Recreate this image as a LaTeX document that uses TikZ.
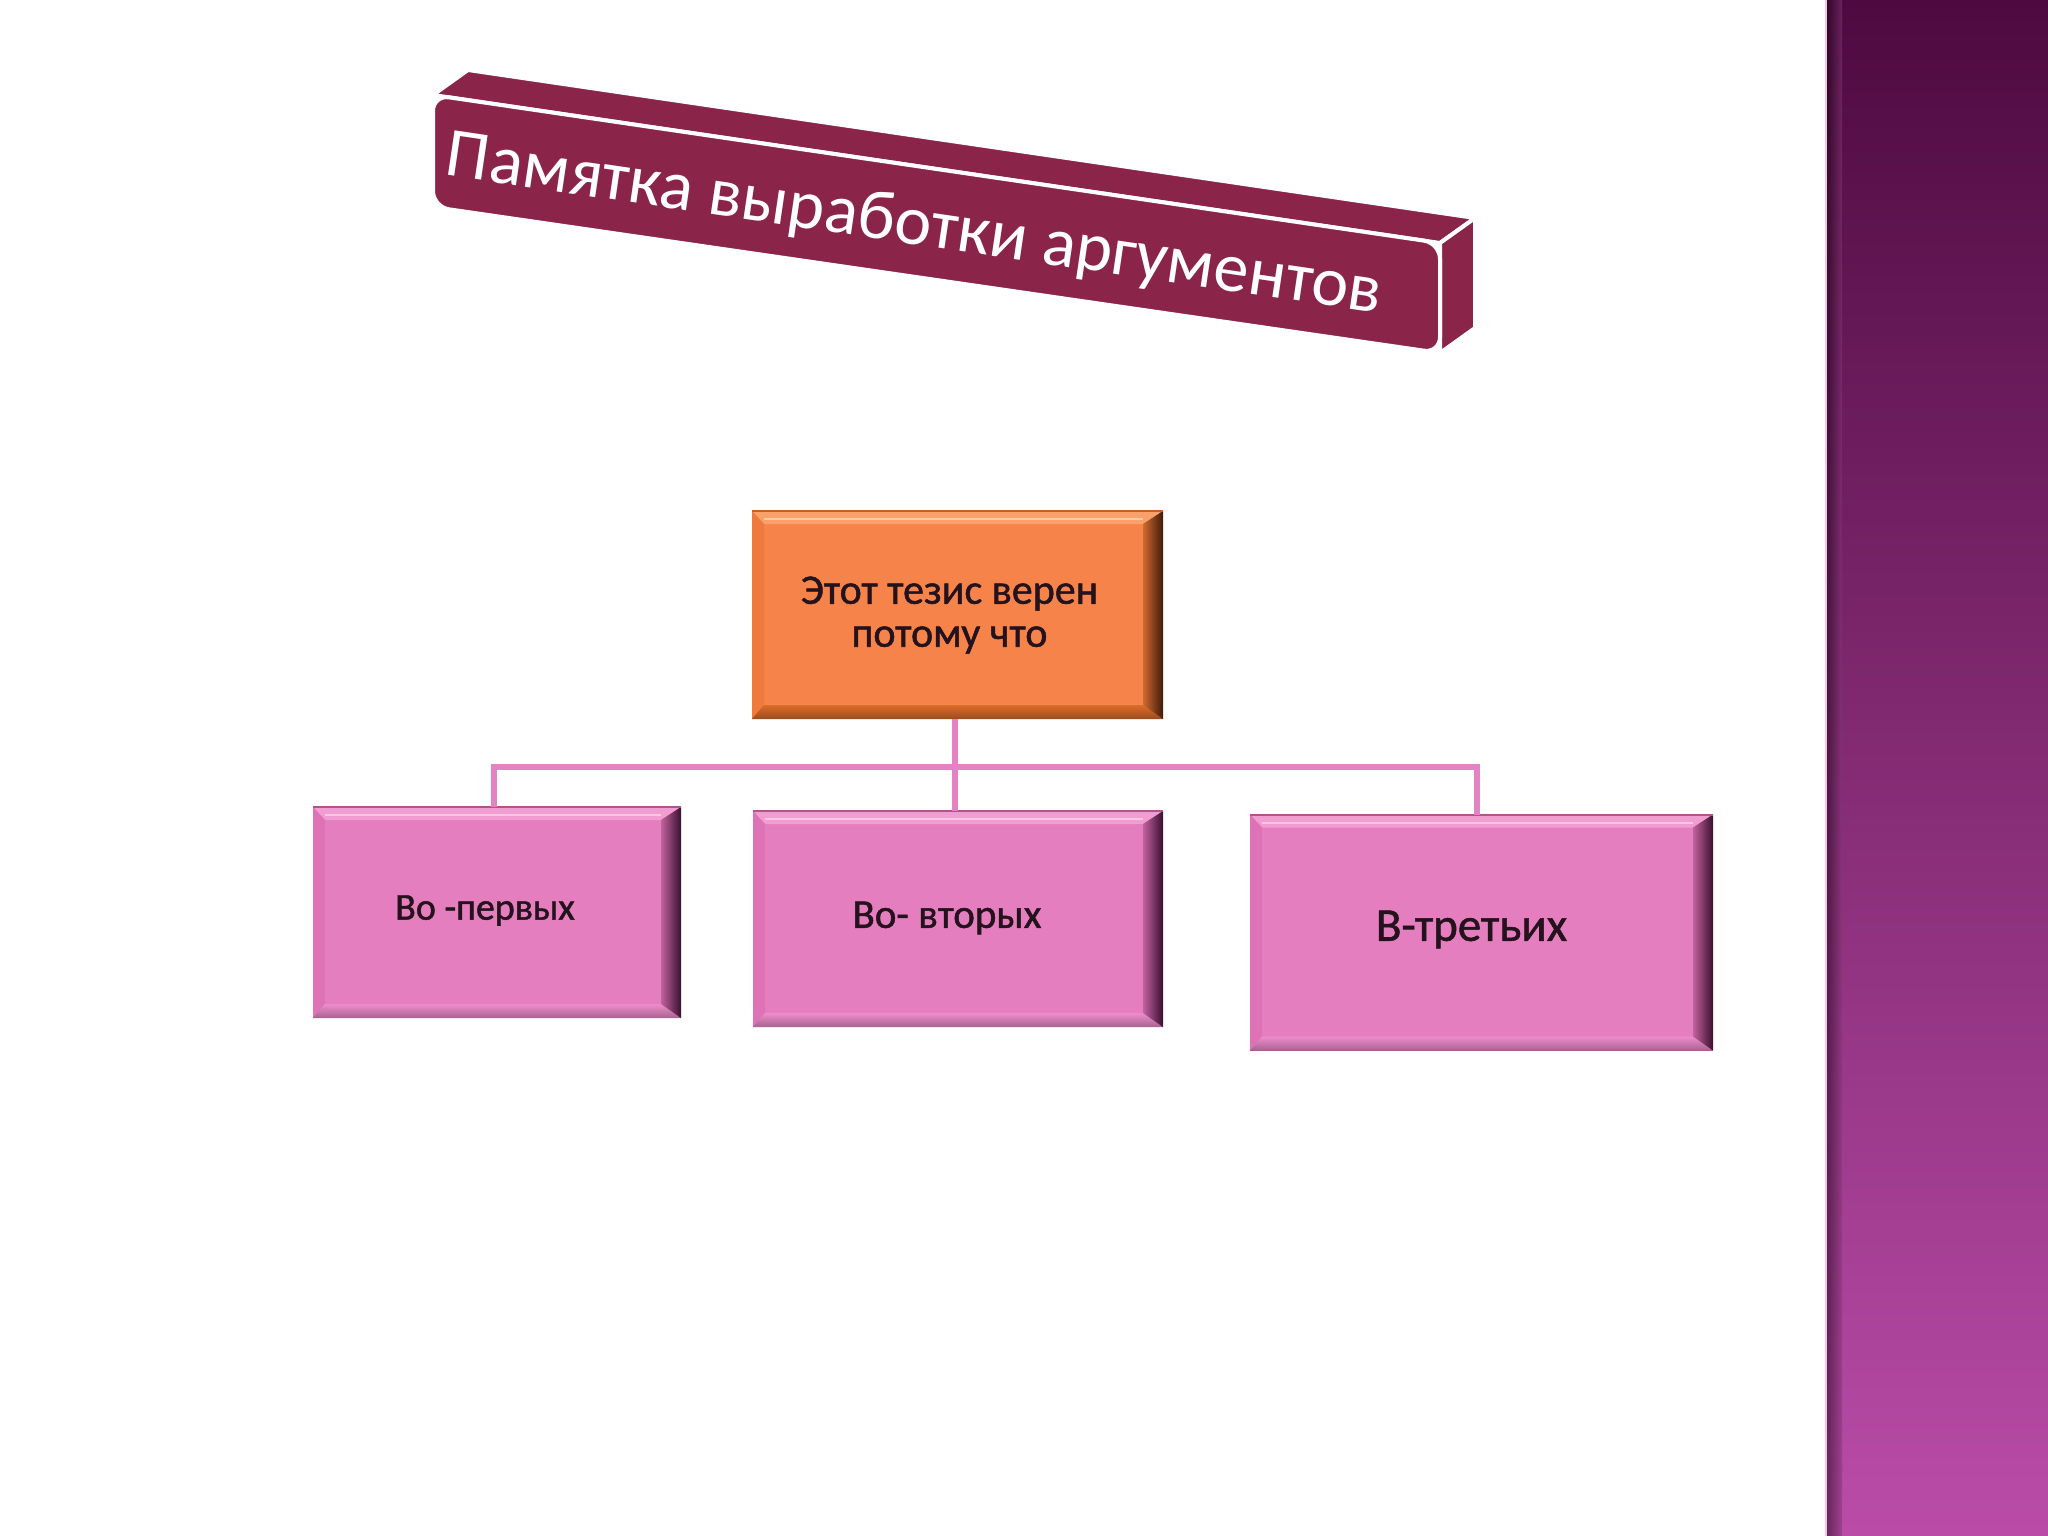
\documentclass[tikz,border=0pt]{standalone}
\usepackage{fontspec}
\setmainfont{Carlito}
\newfontfamily\boxfont{Carlito}[FakeBold=1.2]
\usetikzlibrary{calc}
\definecolor{bannerc}{HTML}{8B2449}
\definecolor{bandA}{HTML}{4E0A40}
\definecolor{bandB}{HTML}{8A387C}
\definecolor{bandC}{HTML}{BA4CA8}
\definecolor{orFace}{HTML}{F6844A}
\definecolor{orTop}{HTML}{FAA06A}
\definecolor{orLeft}{HTML}{EE7A3E}
\definecolor{orRight}{HTML}{D06A30}
\definecolor{orDark}{HTML}{3E1A08}
\definecolor{orBot}{HTML}{DC6C2C}
\definecolor{orLine}{HTML}{CC5E22}
\definecolor{pkFace}{HTML}{E57EBF}
\definecolor{pkTop}{HTML}{F29DD2}
\definecolor{pkLeft}{HTML}{DE72B6}
\definecolor{pkRight}{HTML}{C2619F}
\definecolor{pkDark}{HTML}{3A1030}
\definecolor{pkBot}{HTML}{EE8DCB}
\definecolor{pkLine}{HTML}{B4528E}
\definecolor{connc}{HTML}{E383C4}
\definecolor{txtc}{HTML}{24121C}
\tikzset{
  boxbase/.style={rectangle, inner sep=0pt, line width=2pt},
  obox/.style={boxbase, fill=orFace, draw=orLine},
  pbox/.style={boxbase, fill=pkFace, draw=pkLine},
  boxtext/.style={inner sep=0pt, align=center, text=txtc},
  conn/.style={draw=connc, line width=6pt},
  bannerface/.style={fill=bannerc, draw=white, line width=4pt, line join=round}
}
% #1 node, #2 top, #3 left, #4 right, #5 dark, #6 bottom, #7 outer line
\newcommand\bevelframe[7]{%
  \path (#1.north west) coordinate (o1) (#1.north east) coordinate (o2)
        (#1.south east) coordinate (o3) (#1.south west) coordinate (o4)
        ($(#1.north west)+(12,13)$) coordinate (i1)
        ($(#1.north east)+(-20,13)$) coordinate (i2)
        ($(#1.south east)+(-20,-14)$) coordinate (i3)
        ($(#1.south west)+(12,-14)$) coordinate (i4);
  \fill[#2] (o1)--(o2)--(i2)--(i1)--cycle;
  \fill[#3] (o1)--(i1)--(i4)--(o4)--cycle;
  \shade[top color=#6, bottom color=#6!70!black] (o4)--(i4)--(i3)--(o3)--cycle;
  \shade[left color=#4, right color=#5] (o2)--(o3)--(i3)--(i2)--cycle;
  \draw[white, opacity=0.45, line width=2pt] ($(i1)+(0,-5)$) -- ($(i2)+(0,-5)$);
  \draw[#7, line width=2pt] (o1) -- (o2);
}
\begin{document}
\begin{tikzpicture}[x=1pt,y=-1pt]
\useasboundingbox (0,0) rectangle (2048,1536);
\fill[white] (0,0) rectangle (2048,1536);
% right band
\shade[top color=bandA, middle color=bandB, bottom color=bandC] (1826,0) rectangle (2048,1536);
\shade[left color=black!80!bandA, right color=bandB, opacity=0.5] (1826,0) rectangle (1842,1536);
\draw[pkTop!60!white, line width=1.5pt] (1826,0) -- (1826,1536);
% banner
\coordinate (bA) at (433,95);
\coordinate (bB) at (1440,243);
\coordinate (bC) at (1440,353);
\coordinate (bD) at (433,207);
\fill[bannerc, draw=white, line width=4pt, line join=round] (bA) -- ($(bA)+(35,-25)$) -- ($(bB)+(35,-25)$) -- (bB) -- cycle;
\fill[bannerc, draw=white, line width=4pt, line join=round] (bB) -- ($(bB)+(35,-25)$) -- ($(bC)+(35,-25)$) -- (bC) -- cycle;
\path[bannerface, rounded corners=16pt] (bA) -- (bB) -- (bC) -- (bD) -- cycle;
\node[rotate=-8.4, text=white, font=\fontsize{70}{80}\selectfont, inner sep=0pt] (title) at (914,226) {Памятка выработки аргументов};
% boxes
\node[obox, minimum width=409pt, minimum height=206pt] (thesis) at (957.5,615) {};
\node[pbox, minimum width=366pt, minimum height=209pt] (first) at (497,912.5) {};
\node[pbox, minimum width=408pt, minimum height=214pt] (second) at (958,919) {};
\node[pbox, minimum width=461pt, minimum height=234pt] (third) at (1481.5,932.5) {};
\bevelframe{thesis}{orTop}{orLeft}{orRight}{orDark}{orBot}{orLine}
\bevelframe{first}{pkTop}{pkLeft}{pkRight}{pkDark}{pkBot}{pkLine}
\bevelframe{second}{pkTop}{pkLeft}{pkRight}{pkDark}{pkBot}{pkLine}
\bevelframe{third}{pkTop}{pkLeft}{pkRight}{pkDark}{pkBot}{pkLine}
% texts
\node[boxtext, font=\boxfont\fontsize{42}{43}\selectfont] (thesistxt) at ($(thesis.center)+(-8,0)$) {Этот тезис верен\\потому что};
\node[boxtext, font=\boxfont\fontsize{38}{44}\selectfont] (firsttxt) at ($(first.center)+(-12,-2)$) {Во -первых};
\node[boxtext, font=\boxfont\fontsize{41}{48}\selectfont] (secondtxt) at ($(second.center)+(-11,-1)$) {Во- вторых};
\node[boxtext, font=\boxfont\fontsize{47}{52}\selectfont] (thirdtxt) at ($(third.center)+(-10,-3)$) {В-третьих};
% connectors
\coordinate (hub) at (955,767);
\draw[conn] (thesis.south -| hub) -- (second.north -| hub);
\draw[conn] ($(first.north)+(-3,0)$) |- (hub);
\draw[conn] ($(third.north)+(-5,0)$) |- (hub);
\end{tikzpicture}
\end{document}
